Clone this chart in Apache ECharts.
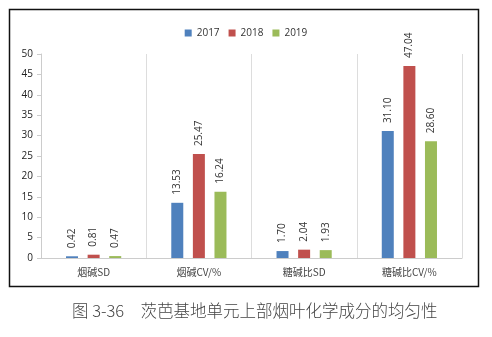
<!DOCTYPE html>
<html><head><meta charset="utf-8">
<script src="https://cdn.jsdelivr.net/npm/echarts@6/dist/echarts.min.js"></script>
<style>html,body{margin:0;padding:0;background:#fff}#c{width:492px;height:337px}</style>
</head><body><div id="c"></div>
<script>
const categories = ['烟碱SD', '烟碱CV/%', '糖碱比SD', '糖碱比CV/%'];
const seriesNames = ['2017', '2018', '2019'];
const v2017 = [0.42, 13.53, 1.70, 31.10];
const v2018 = [0.81, 25.47, 2.04, 47.04];
const v2019 = [0.47, 16.24, 1.93, 28.60];
const yTicks = [0, 5, 10, 15, 20, 25, 30, 35, 40, 45, 50];
const caption = '图 3-36　茨芭基地单元上部烟叶化学成分的均匀性';
const colors = ['#4F81BD', '#C0504D', '#9BBB59'];

const chart = echarts.init(document.getElementById('c'));
const mk = (name, data, color) => ({
  name, type: 'bar', data, barWidth: 12, barGap: '80%',
  itemStyle: { color },
  label: { show: true, position: 'top', rotate: 90, align: 'left', verticalAlign: 'middle', distance: 8,
    formatter: p => Number(p.value).toFixed(2), fontSize: 10, color: '#333', fontFamily: 'Open Sans' }
});
chart.setOption({
  animation: false,
  color: colors,
  legend: { top: 23, left: 'center', itemWidth: 7, itemHeight: 7, itemGap: 9, icon: 'rect',
    textStyle: { fontSize: 10, color: '#333', fontFamily: 'Open Sans' }, data: seriesNames },
  grid: { left: 41, right: 30, top: 54, bottom: 79 },
  xAxis: { type: 'category', data: categories,
    axisLine: { lineStyle: { color: '#ccc' } }, axisTick: { show: false },
    axisLabel: { fontSize: 10, color: '#444', margin: 9, fontFamily: 'Noto Sans CJK SC' },
    splitLine: { show: true, lineStyle: { color: '#ddd' } } },
  yAxis: { type: 'value', min: yTicks[0], max: yTicks[yTicks.length - 1], interval: 5,
    axisLine: { show: true, lineStyle: { color: '#ccc' } }, axisTick: { show: true, length: 4, lineStyle: { color: '#ccc' } },
    splitLine: { show: false },
    axisLabel: { fontSize: 10, color: '#222', margin: 8, fontFamily: 'Open Sans' } },
  series: [mk(seriesNames[0], v2017, colors[0]), mk(seriesNames[1], v2018, colors[1]), mk(seriesNames[2], v2019, colors[2])],
  graphic: [
    { type: 'rect', shape: { x: 9.5, y: 9.5, width: 469, height: 277 }, style: { fill: null, stroke: '#111', lineWidth: 1.5 }, silent: true },
    { type: 'text', left: 72, top: 302, style: { text: caption, fontSize: 16.5, fill: '#444', fontFamily: 'Noto Sans CJK SC', fontWeight: 300 } }
  ]
});
</script></body></html>
